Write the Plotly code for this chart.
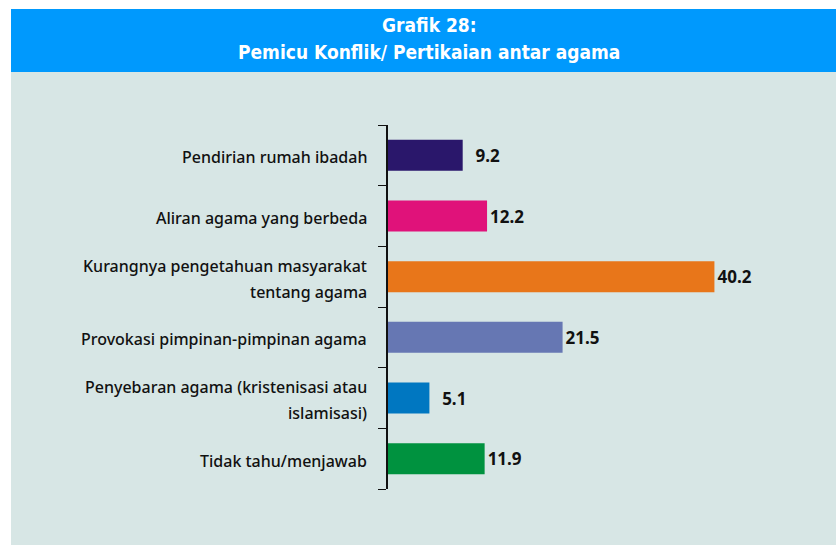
import plotly.graph_objects as go

# ---- data ----
categories = [
    "Pendirian rumah ibadah",
    "Aliran agama yang berbeda",
    "Kurangnya pengetahuan masyarakat<br>tentang agama",
    "Provokasi pimpinan-pimpinan agama",
    "Penyebaran agama (kristenisasi atau<br>islamisasi)",
    "Tidak tahu/menjawab",
]
values = [9.2, 12.2, 40.2, 21.5, 5.1, 11.9]
bar_colors = ["#2a176b", "#e0127a", "#e8761a", "#6677b3", "#0077c1", "#00923f"]
title_lines = ["Grafik 28:", "Pemicu Konflik/ Pertikaian antar agama"]

# ---- geometry (pixels) ----
W, H = 836, 545
L, R, T, B = 388, 26, 125, 56
PW, PH = W - L - R, H - T - B


def px(x):
    return (x - L) / PW


def py(y):
    return (H - B - y) / PH


def fmt(v):
    s = f"{v:.1f}"
    return "\u2007" * (4 - len(s)) + s


fig = go.Figure()
fig.add_trace(go.Bar(
    y=categories,
    x=values,
    orientation="h",
    marker=dict(color=bar_colors, line=dict(width=0)),
    text=[fmt(v) for v in values],
    textposition="outside",
    textfont=dict(family="Noto Sans", size=17, color="#111111", weight="bold"),
    constraintext="none",
    cliponaxis=False,
    hoverinfo="skip",
))

shapes = [
    dict(type="rect", xref="paper", yref="paper", x0=px(11), x1=px(836), y0=py(545), y1=py(72),
         fillcolor="#d7e6e5", line=dict(width=0), layer="below"),
    dict(type="rect", xref="paper", yref="paper", x0=px(11), x1=px(836), y0=py(72), y1=py(9),
         fillcolor="#0099fd", line=dict(width=0), layer="below"),
]

annotations = []
for i, t in enumerate(title_lines):
    annotations.append(dict(
        text=f"<b>{t}</b>", xref="paper", yref="paper", x=px(429), y=py(25 + 27 * i),
        xanchor="center", yanchor="middle", showarrow=False,
        font=dict(family="DejaVu Sans Condensed, sans-serif", size=19, color="white"),
    ))

for cat in categories:
    lines = cat.split("<br>")
    if len(lines) == 1:
        shifts = [-2]
    else:
        shifts = [11, -15]
    for ln, sh in zip(lines, shifts):
        annotations.append(dict(
            text=ln, xref="paper", yref="y", x=0, y=cat, xanchor="right", yanchor="middle",
            xshift=-19, yshift=sh, showarrow=False,
            font=dict(family="Noto Sans", size=16, color="#111111", weight=500),
        ))

fig.update_layout(
    width=W, height=H,
    margin=dict(l=L, r=R, t=T, b=B, pad=0),
    paper_bgcolor="white",
    plot_bgcolor="rgba(0,0,0,0)",
    showlegend=False,
    bargap=0.49,
    shapes=shapes,
    annotations=annotations,
    xaxis=dict(range=[0, PW / 8.12], visible=False, fixedrange=True),
    yaxis=dict(
        autorange="reversed", showticklabels=True,
        tickmode="array", tickvals=categories, ticktext=[""] * len(categories),
        showgrid=False, zeroline=False,
        showline=True, linecolor="#111111", linewidth=1.5,
        ticks="outside", ticklen=8, tickcolor="#111111", tickwidth=1.2, tickson="boundaries",
        fixedrange=True,
    ),
)

fig.write_html("out.html", config={"displayModeBar": False},
               post_script="document.body.style.margin='0';")
